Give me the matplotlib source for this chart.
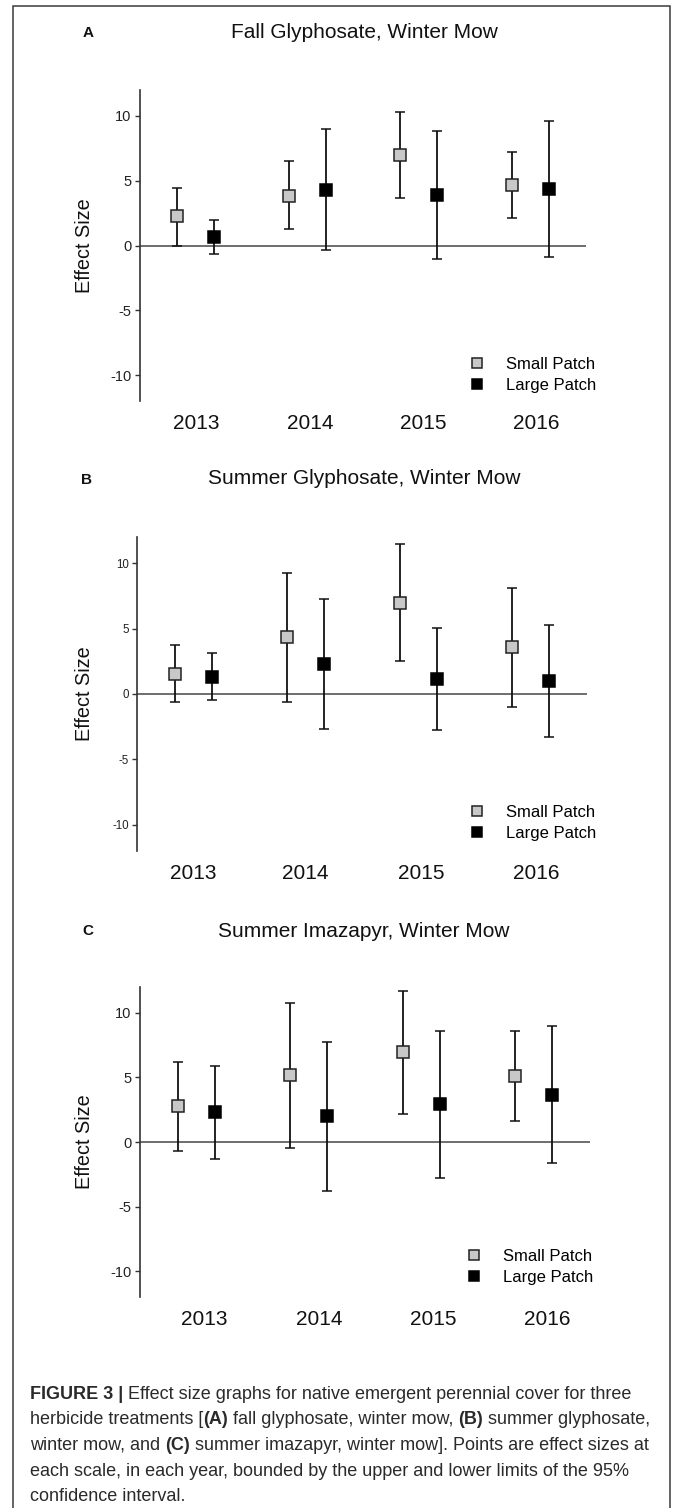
import matplotlib
matplotlib.use("Agg")
import matplotlib.pyplot as plt
from matplotlib.lines import Line2D
from matplotlib.patches import Rectangle
import numpy as np

plt.rcParams['font.family'] = ['Liberation Sans', 'DejaVu Sans']

# ---------------- data ----------------
years = ['2013', '2014', '2015', '2016']
panel_letters = ['A', 'B', 'C']
panel_titles = ['Fall Glyphosate, Winter Mow',
                'Summer Glyphosate, Winter Mow',
                'Summer Imazapyr, Winter Mow']
series_names = ['Small Patch', 'Large Patch']

A_small = [2.27, 3.81, 6.98, 4.69]
A_small_lo = [-0.05, 1.24, 3.66, 2.14]
A_small_hi = [4.46, 6.49, 10.31, 7.22]
A_large = [0.62, 4.28, 3.87, 4.38]
A_large_lo = [-0.64, -0.36, -1.03, -0.85]
A_large_hi = [1.96, 8.99, 8.84, 9.64]

B_small = [1.53, 4.34, 6.99, 3.57]
B_small_lo = [-0.64, -0.59, 2.55, -0.99]
B_small_hi = [3.72, 9.23, 11.48, 8.11]
B_large = [1.28, 2.27, 1.12, 0.97]
B_large_lo = [-0.48, -2.68, -2.78, -3.32]
B_large_hi = [3.11, 7.24, 5.08, 5.26]

C_small = [2.76, 5.15, 6.96, 5.10]
C_small_lo = [-0.72, -0.49, 2.16, 1.62]
C_small_hi = [6.19, 10.75, 11.70, 8.61]
C_large = [2.29, 1.98, 2.91, 3.63]
C_large_lo = [-1.34, -3.81, -2.78, -1.65]
C_large_hi = [5.90, 7.76, 8.61, 8.97]

y_ticks = [-10, -5, 0, 5, 10]

caption_lines = [
    [("FIGURE 3 |", True), (" Effect size graphs for native emergent perennial cover for three", False)],
    [("herbicide treatments [", False), ("(A)", True), (" fall glyphosate, winter mow, ", False),
     ("(B)", True), (" summer glyphosate,", False)],
    [("winter mow, and ", False), ("(C)", True), (" summer imazapyr, winter mow]. Points are effect sizes at", False)],
    [("each scale, in each year, bounded by the upper and lower limits of the 95%", False)],
    [("confidence interval.", False)],
]

panels = [
    (A_small, A_small_lo, A_small_hi, A_large, A_large_lo, A_large_hi),
    (B_small, B_small_lo, B_small_hi, B_large, B_large_lo, B_large_hi),
    (C_small, C_small_lo, C_small_hi, C_large, C_large_lo, C_large_hi),
]

# ---------------- layout (pixels) ----------------
W, H = 675, 1508
fig = plt.figure(figsize=(W / 100, H / 100), dpi=100)


def fx(x):
    return x / W


def fy(y):
    return 1 - y / H


# axes rects: left, top, right, bottom in pixels
ax_px = [(140, 90, 586, 401), (137, 537, 587, 851), (140, 987, 590, 1297)]
title_y = [33, 479, 931]
letter_xy = [(88, 33), (86, 480), (88, 931)]
legend_xy = [(469, 357), (469, 805), (466, 1249)]
tick_fs = [10.5, 8.3, 10.5]
year_shift = [[0.0, 0.03, 0.04, 0.05], [0.0, 0.0, 0.03, 0.05], [0.07, 0.09, 0.11, 0.12]]

# outer frame
fig.patches.append(Rectangle((fx(13), fy(1520)), fx(670) - fx(13), fy(6) - fy(1520),
                             transform=fig.transFigure, fill=False,
                             edgecolor='#3a3a3a', linewidth=1.1))

offset = 0.166
xpos = np.arange(1, len(years) + 1)
small_face = '#c8c8c8'
err_col = '#111111'

for i, (s, slo, shi, l, llo, lhi) in enumerate(panels):
    L, T, R, B = ax_px[i]
    ax = fig.add_axes([fx(L), fy(B), (R - L) / W, (B - T) / H])
    s, slo, shi = map(np.array, (s, slo, shi))
    l, llo, lhi = map(np.array, (l, llo, lhi))

    ax.axhline(0, color='#555555', linewidth=1.2, zorder=1)

    ax.errorbar(xpos - offset, s, yerr=[s - slo, shi - s], fmt='s',
                markersize=8.5, markerfacecolor=small_face, markeredgecolor='#222222',
                markeredgewidth=1.1, ecolor=err_col, elinewidth=1.3,
                capsize=3.4, capthick=1.3, zorder=3)
    ax.errorbar(xpos + offset, l, yerr=[l - llo, lhi - l], fmt='s',
                markersize=8.5, markerfacecolor='black', markeredgecolor='black',
                markeredgewidth=1.1, ecolor=err_col, elinewidth=1.3,
                capsize=3.4, capthick=1.3, zorder=3)

    ax.set_xlim(0.5, 4.5)
    ax.set_ylim(-12, 12)
    ax.set_yticks(y_ticks)
    ax.set_yticklabels([str(t) for t in y_ticks])
    ax.tick_params(axis='y', direction='out', length=3.5, width=1, color='#333333',
                   labelsize=tick_fs[i], labelcolor='#222222', pad=2.5)
    ax.set_xticks(xpos + np.array(year_shift[i]))
    ax.set_xticklabels(years)
    ax.tick_params(axis='x', length=0, labelsize=15, labelcolor='#111111', pad=9.5)
    for sp in ['top', 'right', 'bottom']:
        ax.spines[sp].set_visible(False)
    ax.spines['left'].set_color('#333333')
    ax.spines['left'].set_linewidth(1.2)
    ax.patch.set_alpha(0)

    # labels & titles
    fig.text(fx(85), fy((T + B) / 2), 'Effect Size', rotation=90, ha='center', va='center',
             fontsize=14.3, color='#111111')
    fig.text(fx(364), fy(title_y[i]), panel_titles[i], ha='center', va='center',
             fontsize=15, color='#111111')
    lx, ly = letter_xy[i]
    fig.text(fx(lx), fy(ly), panel_letters[i], ha='center', va='center',
             fontsize=11, fontweight='bold', color='#111111')

    # legend
    handles = [Line2D([], [], linestyle='none', marker='s', markersize=7.5,
                      markerfacecolor=small_face, markeredgecolor='#222222', markeredgewidth=1.1),
               Line2D([], [], linestyle='none', marker='s', markersize=7.5,
                      markerfacecolor='black', markeredgecolor='black', markeredgewidth=1.1)]
    lgx, lgy = legend_xy[i]
    ax.legend(handles, series_names, loc='upper left',
              bbox_to_anchor=(fx(lgx), fy(lgy)), bbox_transform=fig.transFigure,
              frameon=False, fontsize=12, handlelength=1.0, handletextpad=1.2,
              labelspacing=0.36, borderpad=0, borderaxespad=0)

# ---------------- caption ----------------
renderer = fig.canvas.get_renderer()
cap_fs = 13.0
cap_x0 = 30
cap_base0 = 1399
cap_step = 25.5
for li, pieces in enumerate(caption_lines):
    x = cap_x0
    yb = cap_base0 + li * cap_step
    for txt, bold in pieces:
        t = fig.text(fx(x), fy(yb), txt, ha='left', va='baseline', fontsize=cap_fs,
                     fontweight='bold' if bold else 'normal', color='#2a2a2a')
        bb = t.get_window_extent(renderer)
        x += bb.width

fig.savefig('out.png', dpi=100)
